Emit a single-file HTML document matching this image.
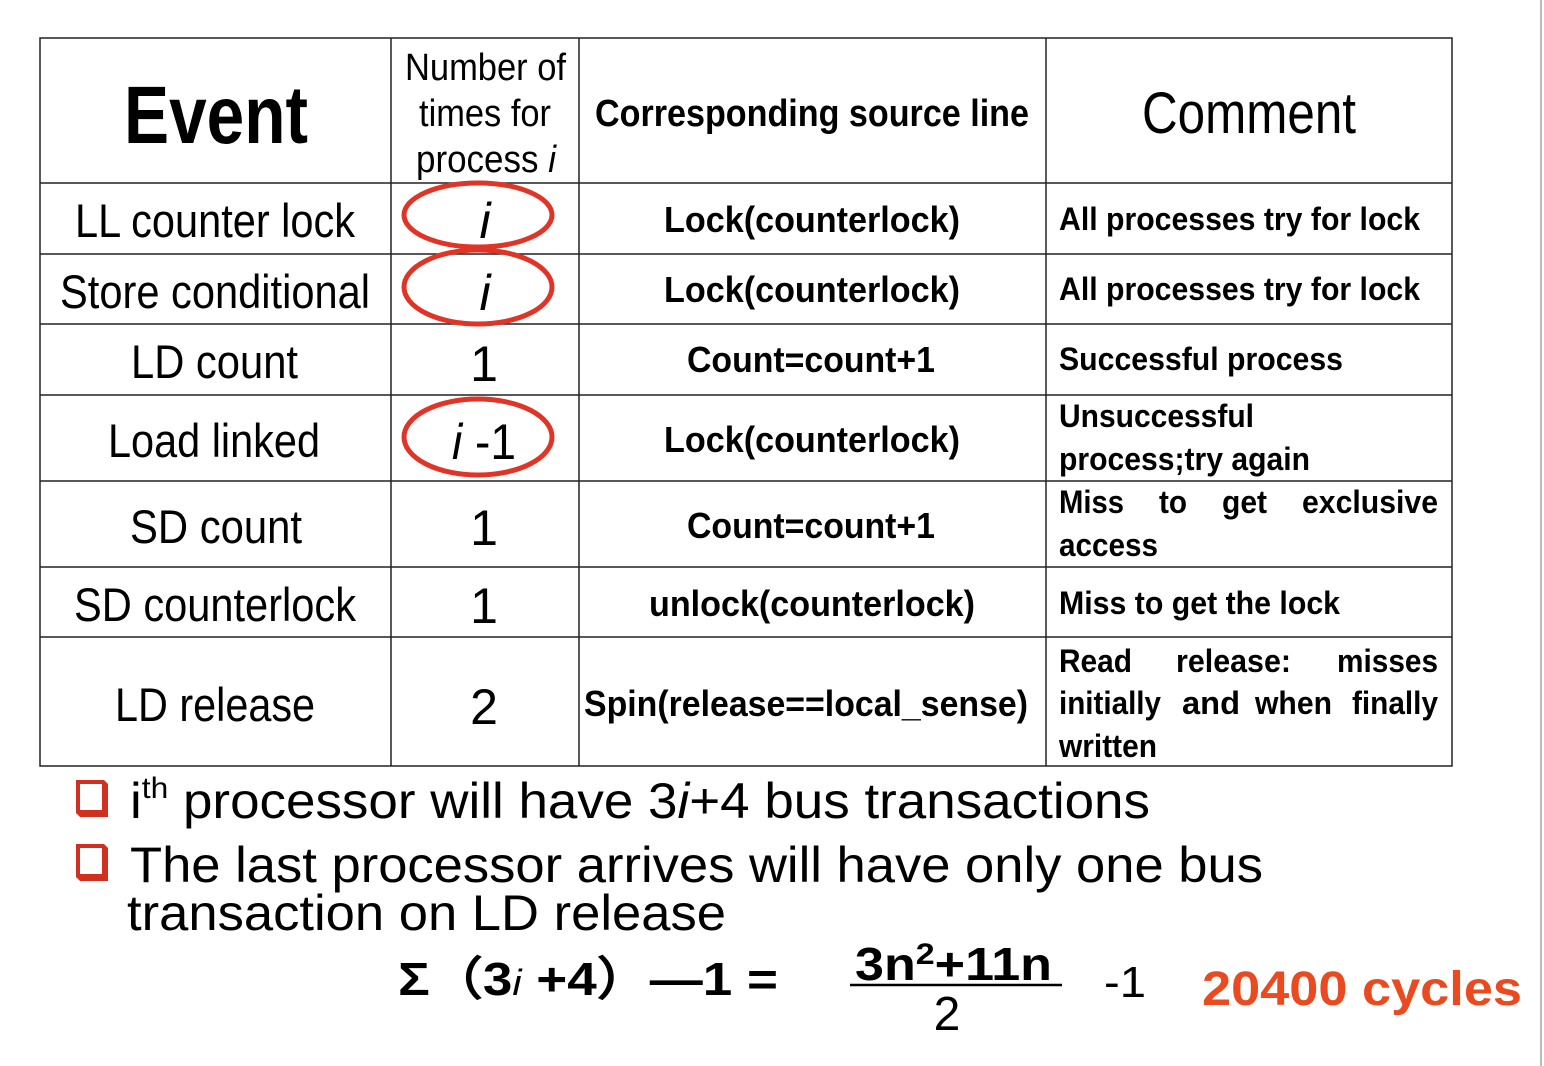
<!DOCTYPE html>
<html><head><meta charset="utf-8"><style>
html,body{margin:0;padding:0;background:#fff;}
svg{display:block;}
text{font-family:"Liberation Sans",sans-serif;fill:#000;}
.b{font-weight:bold;}
</style></head><body>
<svg width="1544" height="1066" viewBox="0 0 1544 1066" xmlns="http://www.w3.org/2000/svg">
<rect width="1544" height="1066" fill="#fff"/>
<line x1="1541" y1="0" x2="1541" y2="1066" stroke="#bbb" stroke-width="2"/>
<g stroke="#222" stroke-width="1.5" fill="none">
<rect x="40" y="38" width="1412" height="728"/>
<line x1="391" y1="38" x2="391" y2="766"/>
<line x1="579" y1="38" x2="579" y2="766"/>
<line x1="1046" y1="38" x2="1046" y2="766"/>
<line x1="40" y1="183" x2="1452" y2="183"/>
<line x1="40" y1="254" x2="1452" y2="254"/>
<line x1="40" y1="324" x2="1452" y2="324"/>
<line x1="40" y1="395" x2="1452" y2="395"/>
<line x1="40" y1="481" x2="1452" y2="481"/>
<line x1="40" y1="567" x2="1452" y2="567"/>
<line x1="40" y1="637" x2="1452" y2="637"/>
</g>
<g>
<text class="b" x="124" y="143" font-size="82" textLength="184" lengthAdjust="spacingAndGlyphs">Event</text>
<text x="405" y="80" font-size="38" textLength="161" lengthAdjust="spacingAndGlyphs">Number of</text>
<text x="419" y="126" font-size="38" textLength="132" lengthAdjust="spacingAndGlyphs">times for</text>
<text x="416" y="172" font-size="38" textLength="140" lengthAdjust="spacingAndGlyphs">process <tspan font-style="italic">i</tspan></text>
<text class="b" x="595" y="126" font-size="38" textLength="434" lengthAdjust="spacingAndGlyphs">Corresponding source line</text>
<text x="1142" y="133" font-size="58" textLength="214" lengthAdjust="spacingAndGlyphs">Comment</text>

<text x="75" y="237" font-size="47" textLength="280" lengthAdjust="spacingAndGlyphs">LL counter lock</text>
<text x="60" y="308" font-size="47" textLength="310" lengthAdjust="spacingAndGlyphs">Store conditional</text>
<text x="131" y="378" font-size="47" textLength="167" lengthAdjust="spacingAndGlyphs">LD count</text>
<text x="108" y="457" font-size="47" textLength="212" lengthAdjust="spacingAndGlyphs">Load linked</text>
<text x="130" y="543" font-size="47" textLength="172" lengthAdjust="spacingAndGlyphs">SD count</text>
<text x="74" y="621" font-size="47" textLength="282" lengthAdjust="spacingAndGlyphs">SD counterlock</text>
<text x="115" y="721" font-size="47" textLength="200" lengthAdjust="spacingAndGlyphs">LD release</text>

<text x="485" y="238" font-size="50" font-style="italic" text-anchor="middle">i</text>
<text x="485" y="310" font-size="50" font-style="italic" text-anchor="middle">i</text>
<text x="484" y="381" font-size="50" text-anchor="middle">1</text>
<text x="452" y="459" font-size="50" textLength="64" lengthAdjust="spacingAndGlyphs"><tspan font-style="italic">i</tspan> -1</text>
<text x="484" y="545" font-size="50" text-anchor="middle">1</text>
<text x="484" y="623" font-size="50" text-anchor="middle">1</text>
<text x="484" y="724" font-size="50" text-anchor="middle">2</text>

<text class="b" x="664" y="232" font-size="36" textLength="296" lengthAdjust="spacingAndGlyphs">Lock(counterlock)</text>
<text class="b" x="664" y="302" font-size="36" textLength="296" lengthAdjust="spacingAndGlyphs">Lock(counterlock)</text>
<text class="b" x="687" y="372" font-size="36" textLength="248" lengthAdjust="spacingAndGlyphs">Count=count+1</text>
<text class="b" x="664" y="452" font-size="36" textLength="296" lengthAdjust="spacingAndGlyphs">Lock(counterlock)</text>
<text class="b" x="687" y="538" font-size="36" textLength="248" lengthAdjust="spacingAndGlyphs">Count=count+1</text>
<text class="b" x="649" y="616" font-size="36" textLength="326" lengthAdjust="spacingAndGlyphs">unlock(counterlock)</text>
<text class="b" x="584" y="716" font-size="36" textLength="444" lengthAdjust="spacingAndGlyphs">Spin(release==local_sense)</text>

<text class="b" x="1059" y="230" font-size="32" textLength="361" lengthAdjust="spacingAndGlyphs">All processes try for lock</text>
<text class="b" x="1059" y="300" font-size="32" textLength="361" lengthAdjust="spacingAndGlyphs">All processes try for lock</text>
<text class="b" x="1059" y="370" font-size="32" textLength="284" lengthAdjust="spacingAndGlyphs">Successful process</text>
<text class="b" x="1059" y="427" font-size="32" textLength="195" lengthAdjust="spacingAndGlyphs">Unsuccessful</text>
<text class="b" x="1059" y="470" font-size="32" textLength="251" lengthAdjust="spacingAndGlyphs">process;try again</text>
<g class="b" font-size="32" font-weight="bold">
<text x="1059" y="513" textLength="65" lengthAdjust="spacingAndGlyphs">Miss</text>
<text x="1159" y="513" textLength="28" lengthAdjust="spacingAndGlyphs">to</text>
<text x="1222" y="513" textLength="45" lengthAdjust="spacingAndGlyphs">get</text>
<text x="1302" y="513" textLength="136" lengthAdjust="spacingAndGlyphs">exclusive</text>
<text x="1059" y="672" textLength="73" lengthAdjust="spacingAndGlyphs">Read</text>
<text x="1176" y="672" textLength="115" lengthAdjust="spacingAndGlyphs">release:</text>
<text x="1337" y="672" textLength="101" lengthAdjust="spacingAndGlyphs">misses</text>
<text x="1059" y="714" textLength="102" lengthAdjust="spacingAndGlyphs">initially</text>
<text x="1182" y="714" textLength="58" lengthAdjust="spacingAndGlyphs">and</text>
<text x="1255" y="714" textLength="77" lengthAdjust="spacingAndGlyphs">when</text>
<text x="1352" y="714" textLength="86" lengthAdjust="spacingAndGlyphs">finally</text>
</g>
<text class="b" x="1059" y="556" font-size="32" textLength="99" lengthAdjust="spacingAndGlyphs">access</text>
<text class="b" x="1059" y="614" font-size="32" textLength="281" lengthAdjust="spacingAndGlyphs">Miss to get the lock</text>
<text class="b" x="1059" y="757" font-size="32" textLength="98" lengthAdjust="spacingAndGlyphs">written</text>
</g>
<g fill="none" stroke="#e03426" stroke-width="5">
<ellipse cx="478" cy="215" rx="74" ry="32"/>
<ellipse cx="478" cy="287" rx="74" ry="37"/>
<ellipse cx="478" cy="437" rx="74" ry="38"/>
</g>
<g>
<path d="M76 780 H104 L108 784 V817 H80 L76 813 Z" fill="#d0301f"/>
<rect x="80" y="784" width="22" height="26" fill="#fff"/>
<path d="M76 844 H104 L108 848 V881 H80 L76 877 Z" fill="#d0301f"/>
<rect x="80" y="848" width="22" height="26" fill="#fff"/>
</g>
<text x="130" y="818" font-size="50" textLength="1020" lengthAdjust="spacingAndGlyphs">i<tspan font-size="30" dy="-20">th</tspan><tspan dy="20"> processor will have 3</tspan><tspan font-style="italic">i</tspan>+4 bus transactions</text>
<text x="130" y="882" font-size="50" textLength="1133" lengthAdjust="spacingAndGlyphs">The last processor arrives will have only one bus</text>
<text x="127" y="930" font-size="50" textLength="599" lengthAdjust="spacingAndGlyphs">transaction on LD release</text>

<text class="b" x="398" y="995" font-size="46" textLength="380" lengthAdjust="spacingAndGlyphs">Σ（3<tspan font-style="italic" font-weight="normal" font-size="36">i</tspan> +4）—1 =</text>
<text class="b" x="855" y="980" font-size="46" textLength="197" lengthAdjust="spacingAndGlyphs">3n<tspan font-size="30" dy="-16">2</tspan><tspan dy="16">+11n</tspan></text>
<line x1="850" y1="985" x2="1062" y2="985" stroke="#000" stroke-width="2.5"/>
<text x="947" y="1030" font-size="48" text-anchor="middle">2</text>
<text x="1104" y="997" font-size="44" textLength="42" lengthAdjust="spacingAndGlyphs">-1</text>
<text class="b" x="1202" y="1005" font-size="48" textLength="320" lengthAdjust="spacingAndGlyphs" style="fill:#ea4a1f">20400 cycles</text>
</svg>
</body></html>
